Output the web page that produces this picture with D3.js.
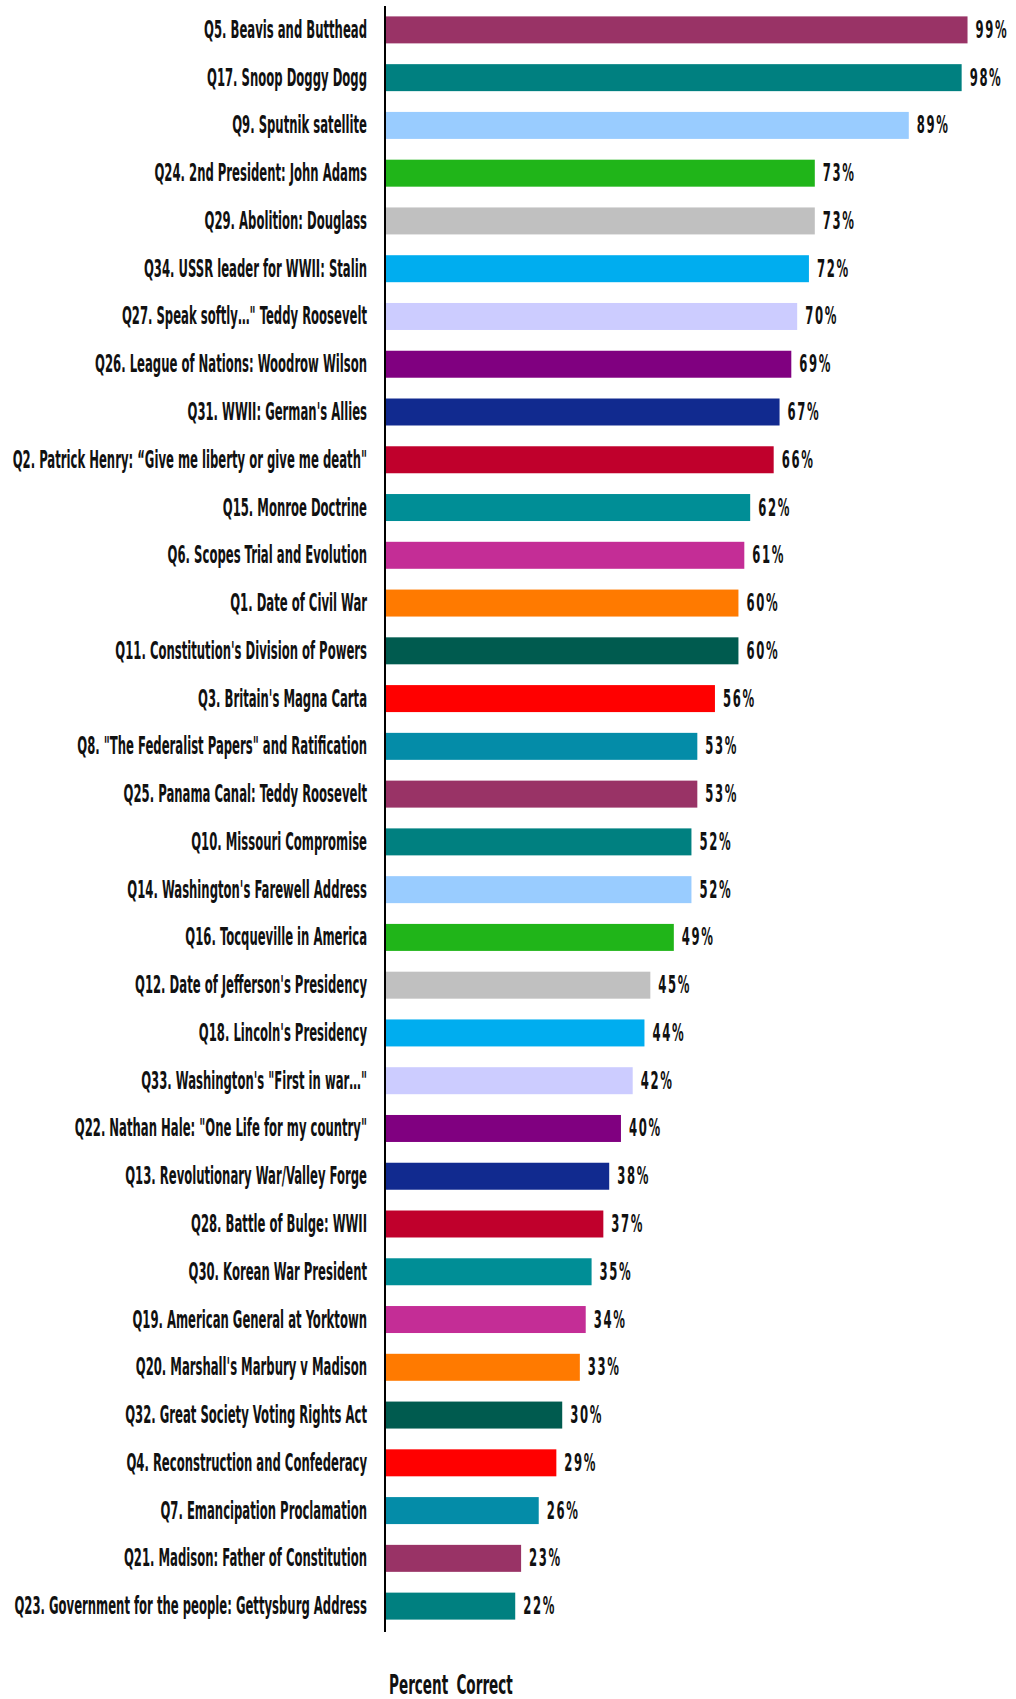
<!DOCTYPE html>
<html>
<head>
<meta charset="utf-8">
<script src="https://cdn.jsdelivr.net/npm/d3@7"></script>
<style>
  body { margin: 0; background: #fff; }
  text { font-family: "Liberation Sans Narrow", "DejaVu Sans Condensed", "Liberation Sans", sans-serif; font-weight: bold; fill: #111; }
</style>
</head>
<body>
<svg id="chart"></svg>
<script>
// question labels, top to bottom
const questions = [
  "Q5. Beavis and Butthead",
  "Q17. Snoop Doggy Dogg",
  "Q9. Sputnik satellite",
  "Q24. 2nd President: John Adams",
  "Q29. Abolition: Douglass",
  "Q34. USSR leader for WWII: Stalin",
  "Q27. Speak softly\u2026\" Teddy Roosevelt",
  "Q26. League of Nations: Woodrow Wilson",
  "Q31. WWII: German's Allies",
  "Q2. Patrick Henry: \u201cGive me liberty or give me death\"",
  "Q15. Monroe Doctrine",
  "Q6. Scopes Trial and Evolution",
  "Q1. Date of Civil War",
  "Q11. Constitution's Division of Powers",
  "Q3. Britain's Magna Carta",
  "Q8. \"The Federalist Papers\" and Ratification",
  "Q25. Panama Canal: Teddy Roosevelt",
  "Q10. Missouri Compromise",
  "Q14. Washington's Farewell Address",
  "Q16. Tocqueville in America",
  "Q12. Date of Jefferson's Presidency",
  "Q18. Lincoln's Presidency",
  "Q33. Washington's \"First in war\u2026\"",
  "Q22. Nathan Hale: \"One Life for my country\"",
  "Q13. Revolutionary War/Valley Forge",
  "Q28. Battle of Bulge: WWII",
  "Q30. Korean War President",
  "Q19. American General at Yorktown",
  "Q20. Marshall's Marbury v Madison",
  "Q32. Great Society Voting Rights Act",
  "Q4. Reconstruction and Confederacy",
  "Q7. Emancipation Proclamation",
  "Q21. Madison: Father of Constitution",
  "Q23. Government for the people: Gettysburg Address"
];

// percent correct
const percentCorrect = [99, 98, 89, 73, 73, 72, 70, 69, 67, 66, 62, 61, 60, 60, 56, 53, 53,
  52, 52, 49, 45, 44, 42, 40, 38, 37, 35, 34, 33, 30, 29, 26, 23, 22];

const axisTitle = "Percent Correct";

// bar colours cycle through this palette
const palette = ["#993366", "#008080", "#99CCFF", "#20B519", "#C0C0C0", "#00ADEF", "#CCCCFF", "#800080",
  "#112A8F", "#C0002C", "#008E96", "#C42D96", "#FF7A00", "#005B4F", "#FF0000", "#048CA8"];

const width = 1016, height = 1699;
const x0 = 386;
const labelScale = 0.54;

const data = questions.map((q, i) => ({ q: q, v: percentCorrect[i], i: i }));

const svg = d3.select("#chart").attr("width", width).attr("height", height);

const y = d3.scaleBand()
  .domain(questions)
  .range([6, 1630])
  .paddingInner(0.435)
  .paddingOuter(0.2175);

const x = d3.scaleLinear()
  .domain([0, 100])
  .range([x0, x0 + 587.4]);

const color = d3.scaleOrdinal()
  .domain(d3.range(palette.length))
  .range(palette);

// bars
svg.append("g").selectAll("rect")
  .data(data)
  .enter().append("rect")
    .attr("x", x(0))
    .attr("y", d => y(d.q))
    .attr("width", d => x(d.v) - x(0))
    .attr("height", y.bandwidth())
    .attr("fill", d => color(d.i % palette.length));

// category labels
svg.append("g").selectAll("text")
  .data(data)
  .enter().append("text")
    .attr("transform", d => `translate(367,${y(d.q) + y.bandwidth() / 2 + 8}) scale(${labelScale},1)`)
    .attr("text-anchor", "end")
    .style("font-size", "24px")
    .text(d => d.q);

// value labels
svg.append("g").selectAll("text")
  .data(data)
  .enter().append("text")
    .attr("transform", d => `translate(${x(d.v) + 8},${y(d.q) + y.bandwidth() / 2 + 8}) scale(${labelScale},1)`)
    .style("font-size", "24px")
    .style("letter-spacing", "3px")
    .text(d => d.v + "%");

// y axis line
svg.append("line")
  .attr("x1", 385).attr("x2", 385)
  .attr("y1", 6).attr("y2", 1632)
  .attr("stroke", "#000")
  .attr("stroke-width", 2);

// axis title
svg.append("text")
  .attr("transform", `translate(389,1694) scale(0.58,1)`)
  .style("font-size", "26px")
  .style("word-spacing", "6px")
  .text(axisTitle);
</script>
</body>
</html>
